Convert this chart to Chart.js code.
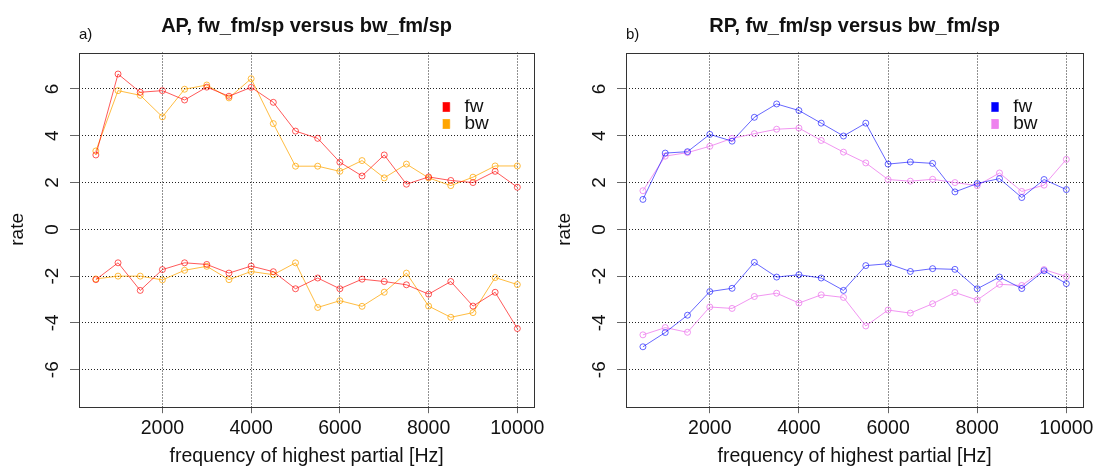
<!DOCTYPE html>
<html>
<head>
<meta charset="utf-8">
<script src="https://cdn.jsdelivr.net/npm/chart.js@4.4.0/dist/chart.umd.min.js"></script>
<style>
  html, body { margin: 0; padding: 0; background: #fff; }
  #wrap { position: relative; width: 1098px; height: 468px; }
  .panel { position: absolute; top: 0; width: 549px; height: 468px; }
</style>
</head>
<body>
<div id="wrap">
  <div class="panel" style="left:0"><canvas id="chartAP" width="549" height="468"></canvas></div>
  <div class="panel" style="left:549px"><canvas id="chartRP" width="549" height="468"></canvas></div>
</div>
<script>
// frequency of highest partial, same for all series
const freqs = [500, 1000, 1500, 2000, 2500, 3000, 3500, 4000, 4500, 5000,
  5500, 6000, 6500, 7000, 7500, 8000, 8500, 9000, 9500, 10000];

// panel a) AP
const apFwUp = [3.18, 6.64, 5.86, 5.93, 5.53, 6.08, 5.69, 6.07, 5.43, 4.20, 3.89, 2.87, 2.28, 3.18, 1.93, 2.24, 2.09, 2.00, 2.48, 1.80];
const apBwUp = [3.35, 5.93, 5.73, 4.81, 5.99, 6.17, 5.62, 6.44, 4.52, 2.70, 2.70, 2.48, 2.94, 2.20, 2.79, 2.20, 1.87, 2.23, 2.71, 2.71];
const apFwDown = [-2.15, -1.43, -2.61, -1.72, -1.43, -1.50, -1.87, -1.57, -1.81, -2.54, -2.08, -2.54, -2.13, -2.23, -2.37, -2.77, -2.23, -3.28, -2.69, -4.24];
const apBwDown = [-2.12, -2.00, -2.00, -2.16, -1.75, -1.58, -2.15, -1.80, -1.94, -1.43, -3.34, -3.05, -3.29, -2.69, -1.87, -3.28, -3.76, -3.56, -2.06, -2.36];

// panel b) RP
const rpFwUp = [1.28, 3.26, 3.32, 4.06, 3.77, 4.79, 5.36, 5.08, 4.54, 3.99, 4.54, 2.79, 2.88, 2.82, 1.60, 1.96, 2.17, 1.36, 2.13, 1.70];
const rpBwUp = [1.65, 3.13, 3.28, 3.55, 3.89, 4.09, 4.28, 4.33, 3.80, 3.30, 2.84, 2.13, 2.06, 2.14, 2.00, 1.87, 2.41, 1.62, 1.89, 2.99];
const rpFwDown = [-5.02, -4.41, -3.67, -2.66, -2.52, -1.41, -2.04, -1.94, -2.08, -2.61, -1.55, -1.47, -1.80, -1.68, -1.71, -2.54, -2.04, -2.53, -1.77, -2.32];
const rpBwDown = [-4.51, -4.20, -4.40, -3.32, -3.38, -2.87, -2.73, -3.15, -2.80, -2.91, -4.13, -3.45, -3.58, -3.18, -2.70, -3.02, -2.35, -2.40, -1.72, -2.02];

// tick labels
const xTicks = [2000, 4000, 6000, 8000, 10000];
const yTicks = [-6, -4, -2, 0, 2, 4, 6];

Chart.defaults.font.family = "'Liberation Sans', Arial, sans-serif";
Chart.defaults.color = "#222";

// R style box round the plot region
const frame = {
  id: "frame",
  beforeDatasetsDraw(chart) {
    const a = chart.chartArea;
    const ctx = chart.ctx;
    ctx.save();
    ctx.strokeStyle = "#333";
    ctx.lineWidth = 1;
    ctx.strokeRect(Math.round(a.left) + 0.5, Math.round(a.top) + 0.5,
      Math.round(a.right - a.left), Math.round(a.bottom - a.top));
    ctx.restore();
  }
};

// put the legend inside the plot, top right
const legendSpot = {
  id: "legendSpot",
  afterLayout(chart) {
    const a = chart.chartArea;
    const lg = chart.legend;
    const w = lg.width, h = lg.height;
    lg.left = a.left + (a.right - a.left) * 0.799;
    lg.top = a.top + 47;
    lg.right = lg.left + w;
    lg.bottom = lg.top + h;
  }
};

function pts(vals) {
  return freqs.map((f, i) => ({ x: f, y: vals[i] }));
}

function series(label, vals, solid, line) {
  return {
    label: label,
    data: pts(vals),
    borderColor: line,
    backgroundColor: solid,
    borderWidth: 1,
    pointRadius: 3,
    pointBorderWidth: 1,
    pointBorderColor: line,
    pointBackgroundColor: "rgba(0,0,0,0)",
    fill: false,
    tension: 0
  };
}

function makePanel(id, title, tag, fwUp, bwUp, fwDown, bwDown, fwCol, bwCol, fwLine, bwLine, padL, padR) {
  new Chart(document.getElementById(id), {
    type: "line",
    data: {
      datasets: [
        series("fw", fwUp, fwCol, fwLine),
        series("bw", bwUp, bwCol, bwLine),
        series("fw", fwDown, fwCol, fwLine),
        series("bw", bwDown, bwCol, bwLine)
      ]
    },
    options: {
      responsive: false,
      animation: false,
      layout: { padding: { left: padL, right: padR, top: 0, bottom: 0 } },
      plugins: {
        title: {
          display: true,
          text: title,
          fullSize: false,
          font: { size: 20, weight: "bold" },
          color: "#111",
          padding: { top: 14, bottom: 0 }
        },
        subtitle: {
          display: true,
          text: tag,
          fullSize: false,
          align: "start",
          font: { size: 15 },
          color: "#111",
          padding: { top: -12, bottom: 8.5 }
        },
        legend: {
          position: "chartArea",
          align: "start",
          labels: {
            boxWidth: 9,
            boxHeight: 9,
            padding: -2,
            font: { size: 19 },
            color: "#111",
            filter: (item) => item.datasetIndex < 2,
            // a bit more room between the square and the word, as in R
            generateLabels: (chart) => Chart.defaults.plugins.legend.labels.generateLabels(chart)
              .map((l) => Object.assign(l, { text: " " + l.text }))
          }
        },
        tooltip: { enabled: false }
      },
      scales: {
        x: {
          type: "linear",
          min: 120,
          max: 10380,
          afterBuildTicks: (s) => { s.ticks = xTicks.map((v) => ({ value: v })); },
          ticks: {
            font: { size: 19.5 },
            color: "#111",
            padding: 4,
            maxRotation: 0,
            callback: (v) => String(v)
          },
          grid: { color: "#222", lineWidth: 1, tickLength: 7, tickColor: "#666" },
          border: { display: false, dash: [1, 2] },
          title: {
            display: true,
            text: "frequency of highest partial [Hz]",
            font: { size: 19.5 },
            color: "#111",
            padding: { top: 0, bottom: 0 }
          }
        },
        y: {
          min: -7.56,
          max: 7.56,
          afterBuildTicks: (s) => { s.ticks = yTicks.map((v) => ({ value: v })); },
          ticks: {
            font: { size: 19 },
            color: "#111",
            padding: 9,
            minRotation: 90,
            maxRotation: 90,
            crossAlign: "center",
            callback: (v) => String(v)
          },
          grid: { color: "#222", lineWidth: 1, tickLength: 9, tickColor: "#666" },
          border: { display: false, dash: [1, 2] },
          title: {
            display: true,
            text: "rate",
            font: { size: 19 },
            color: "#111",
            padding: { top: 4.1, bottom: 0.3 }
          }
        }
      }
    },
    plugins: [frame, legendSpot]
  });
}

makePanel("chartAP", "AP, fw_fm/sp versus bw_fm/sp", "a)",
  apFwUp, apBwUp, apFwDown, apBwDown,
  "#ff0000", "#ffa500", "rgba(255,0,0,0.65)", "rgba(255,165,0,0.75)", 2, 12);

makePanel("chartRP", "RP, fw_fm/sp versus bw_fm/sp", "b)",
  rpFwUp, rpBwUp, rpFwDown, rpBwDown,
  "#0000ff", "#ee82ee", "rgba(0,0,255,0.6)", "rgba(238,130,238,0.85)", 0, 13);
</script>
</body>
</html>
